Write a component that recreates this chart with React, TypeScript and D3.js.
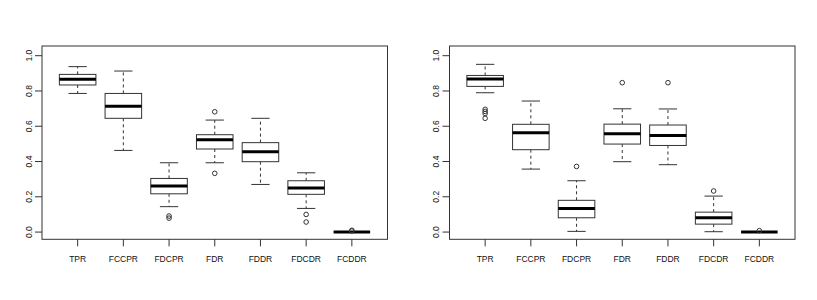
import { scaleLinear } from 'd3';

// Categories shared by both panels
const categories = ['TPR', 'FCCPR', 'FDCPR', 'FDR', 'FDDR', 'FDCDR', 'FCDDR'];
const yTicks = [0, 0.2, 0.4, 0.6, 0.8, 1.0];

// Left panel: five-number summaries
const leftLow = [0.786, 0.463, 0.144, 0.393, 0.27, 0.134, 0];
const leftQ1 = [0.834, 0.645, 0.217, 0.471, 0.399, 0.214, 0];
const leftMedian = [0.866, 0.713, 0.261, 0.524, 0.456, 0.25, 0];
const leftQ3 = [0.894, 0.786, 0.304, 0.552, 0.507, 0.291, 0];
const leftHigh = [0.938, 0.913, 0.393, 0.635, 0.645, 0.336, 0];
const leftOutliers = [[], [], [0.091, 0.079], [0.682, 0.333], [], [0.1, 0.057], [0.006, 0.01]];

// Right panel
const rightLow = [0.79, 0.357, 0.004, 0.399, 0.382, 0.002, 0];
const rightQ1 = [0.826, 0.467, 0.081, 0.499, 0.491, 0.045, 0];
const rightMedian = [0.868, 0.563, 0.134, 0.558, 0.548, 0.081, 0];
const rightQ3 = [0.888, 0.611, 0.18, 0.612, 0.607, 0.113, 0];
const rightHigh = [0.951, 0.743, 0.291, 0.699, 0.698, 0.204, 0];
const rightOutliers = [[0.696, 0.684, 0.672, 0.645], [], [0.372], [0.847], [0.847], [0.233], [0.008]];

type PanelProps = {
    offsetX: number;
    low: number[];
    q1: number[];
    median: number[];
    q3: number[];
    high: number[];
    outliers: number[][];
};

function Panel({ offsetX, low, q1, median, q3, high, outliers }: PanelProps) {
    // Plot region
    const left = 42;
    const right = 387.5;
    const top = 46;
    const bottom = 239.3;

    // R style scales with 4% padding
    const x = scaleLinear().domain([0.22, 7.78]).range([left, right]);
    const y = scaleLinear().domain([-0.041, 1.055]).range([bottom, top]);
    const boxW = x(0.8) - x(0);
    const capW = boxW / 2;
    const stroke = '#333';

    return (
        <g transform={`translate(${offsetX}, 0)`}>
            {/* boxes */}
            {categories.map((c, i) => {
                const cx = x(i + 1);
                return (
                    <g key={c}>
                        <line x1={cx} x2={cx} y1={y(q3[i])} y2={y(high[i])} stroke={stroke} strokeDasharray="3,3" />
                        <line x1={cx} x2={cx} y1={y(q1[i])} y2={y(low[i])} stroke={stroke} strokeDasharray="3,3" />
                        <line x1={cx - capW / 2} x2={cx + capW / 2} y1={y(high[i])} y2={y(high[i])} stroke={stroke} />
                        <line x1={cx - capW / 2} x2={cx + capW / 2} y1={y(low[i])} y2={y(low[i])} stroke={stroke} />
                        <rect
                            x={cx - boxW / 2}
                            y={y(q3[i])}
                            width={boxW}
                            height={y(q1[i]) - y(q3[i])}
                            fill="white"
                            stroke={stroke}
                        />
                        <line x1={cx - boxW / 2} x2={cx + boxW / 2} y1={y(median[i])} y2={y(median[i])} stroke="black" strokeWidth={3} />
                        {outliers[i].map((o, j) => (
                            <circle key={j} cx={cx} cy={y(o)} r={2.3} fill="none" stroke={stroke} strokeWidth={1} />
                        ))}
                    </g>
                );
            })}

            {/* frame */}
            <rect x={left} y={top} width={right - left} height={bottom - top} fill="none" stroke={stroke} />

            {/* y axis */}
            {yTicks.map((t) => (
                <g key={t}>
                    <line x1={left - 7} x2={left} y1={y(t)} y2={y(t)} stroke={stroke} />
                    <text
                        transform={`translate(${left - 10.5}, ${y(t)}) rotate(-90)`}
                        textAnchor="middle"
                        fontSize={8.5}
                        fill="#111"
                    >
                        {t.toFixed(1)}
                    </text>
                </g>
            ))}

            {/* x axis */}
            {categories.map((c, i) => (
                <g key={c}>
                    <line x1={x(i + 1)} x2={x(i + 1)} y1={bottom} y2={bottom + 7} stroke={stroke} />
                    <text x={x(i + 1)} y={bottom + 23} textAnchor="middle" fontSize={8.5} fill="#111">
                        {c}
                    </text>
                </g>
            ))}
        </g>
    );
}

function App() {
    return (
        <svg
            width={817}
            height={300}
            style={{ position: 'absolute', left: 0, top: 0, background: 'white' }}
            fontFamily="'Liberation Sans', Arial, sans-serif"
        >
            <Panel
                offsetX={0}
                low={leftLow}
                q1={leftQ1}
                median={leftMedian}
                q3={leftQ3}
                high={leftHigh}
                outliers={leftOutliers}
            />
            <Panel
                offsetX={407.5}
                low={rightLow}
                q1={rightQ1}
                median={rightMedian}
                q3={rightQ3}
                high={rightHigh}
                outliers={rightOutliers}
            />
        </svg>
    );
}

export default App;
